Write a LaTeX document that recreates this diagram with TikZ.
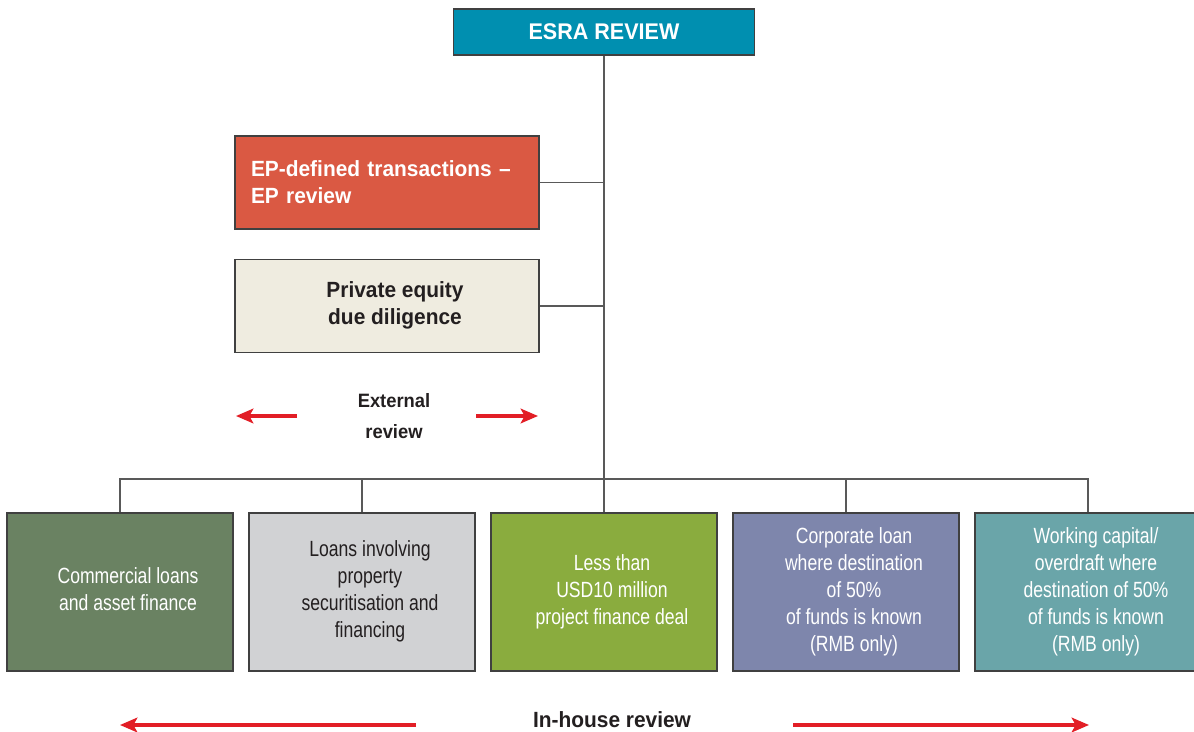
\documentclass[tikz,border=0pt]{standalone}
\usepackage{fontspec}
\setmainfont[FakeStretch=0.8, BoldFont={Liberation Sans Bold}, BoldFeatures={FakeStretch=0.95}]{Liberation Sans}
\usetikzlibrary{arrows.meta}

\definecolor{esraBlue}{RGB}{0,143,176}
\definecolor{epRed}{RGB}{218,89,67}
\definecolor{peCream}{RGB}{239,236,224}
\definecolor{loanGreen}{RGB}{106,130,98}
\definecolor{propGrey}{RGB}{209,210,212}
\definecolor{pfGreen}{RGB}{138,172,62}
\definecolor{corpBlue}{RGB}{126,134,172}
\definecolor{wcTeal}{RGB}{106,165,169}
\definecolor{arrowRed}{RGB}{226,30,38}
\definecolor{ink}{RGB}{35,31,32}

% text block nudged a little to the right inside its box
\newcommand{\boxtext}[1]{\hspace{12pt}\begin{tabular}{@{}c@{}}#1\end{tabular}}

\tikzset{
    box/.style={draw=black!75, line width=0.8pt, inner sep=0pt, align=center,
        font=\fontsize{16.5}{20.25}\selectfont},
    topbox/.style={box, minimum width=228pt, minimum height=69.75pt},
    lowbox/.style={box, minimum width=169.5pt, minimum height=118.5pt},
    link/.style={draw=black!65, line width=0.8pt},
    redarrow/.style={draw=arrowRed, line width=2.6pt,
        -{Stealth[length=13pt,width=11pt,inset=3pt]}},
    tag/.style={text=ink, align=center, font=\bfseries\fontsize{16.5}{23}\selectfont}
}

\begin{document}
\begin{tikzpicture}[x=0.75pt,y=-0.75pt]
    \useasboundingbox (0,0) rectangle (1194,731);

    % Top of the tree
    \node[box, fill=esraBlue, text=white, minimum width=225.75pt, minimum height=34.5pt,
        font=\bfseries\fontsize{17}{20}\selectfont] (esra) at (604,32) {ESRA REVIEW};

    % External review boxes
    \node[topbox, fill=epRed, text=white, text width=204pt, align=left,
        font=\bfseries\fontsize{16.5}{20.25}\selectfont] (ep) at (387,182.5)
        {EP-defined transactions --\\EP review};
    \node[topbox, fill=peCream, text=ink,
        font=\bfseries\fontsize{16.5}{20.25}\selectfont] (pe) at (387,306)
        {\boxtext{Private equity\\due diligence}};

    \node[tag, font=\bfseries\fontsize{14.5}{23}\selectfont] (ext) at (394,416) {External\\review};
    \coordinate (extL1) at (297,416);
    \coordinate (extL2) at (236,416);
    \coordinate (extR1) at (476,416);
    \coordinate (extR2) at (538,416);
    \draw[redarrow] (extL1) -- (extL2);
    \draw[redarrow] (extR1) -- (extR2);

    % In-house review boxes
    \foreach \i/\x/\col/\txtcol/\txt in {
        1/120/loanGreen/white/{Commercial loans\\and asset finance},
        2/362/propGrey/ink/{Loans involving\\property\\securitisation and\\financing},
        3/604/pfGreen/white/{Less than\\USD10 million\\project finance deal},
        4/846/corpBlue/white/{Corporate loan\\where destination\\of 50\%\\of funds is known\\(RMB only)},
        5/1088/wcTeal/white/{Working capital/\\overdraft where\\destination of 50\%\\of funds is known\\(RMB only)}} {
        \node[lowbox, fill=\col, text=\txtcol] (b\i) at (\x,592) {\boxtext{\txt}};
    }

    % Connectors
    \coordinate (bar) at (604,479);
    \draw[link] (esra) -- (b3);
    \draw[link] (ep.east) -- (ep.east -| esra.south);
    \draw[link] (pe.east) -- (pe.east -| esra.south);
    \draw[link] (b1.north) -- (b1.north |- bar) -- (b5.north |- bar) -- (b5.north);
    \draw[link] (b2.north) -- (b2.north |- bar);
    \draw[link] (b4.north) -- (b4.north |- bar);

    \node[tag] (inh) at (612,720) {In-house review};
    \coordinate (inL1) at (416,725);
    \coordinate (inL2) at (120,725);
    \coordinate (inR1) at (793,725);
    \coordinate (inR2) at (1089,725);
    \draw[redarrow] (inL1) -- (inL2);
    \draw[redarrow] (inR1) -- (inR2);
\end{tikzpicture}
\end{document}
